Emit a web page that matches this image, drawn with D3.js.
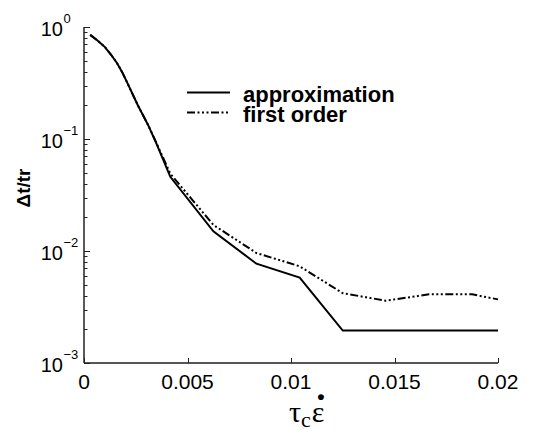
<!DOCTYPE html>
<html>
<head>
<meta charset="utf-8">
<script src="https://cdn.jsdelivr.net/npm/d3@7"></script>
<style>
  body { margin: 0; background: #fff; }
  text { font-family: "Liberation Sans", Arial, sans-serif; }
</style>
</head>
<body>
<div id="chart"></div>
<script>
// data
var xApprox = [0.0003, 0.00065, 0.001, 0.0013, 0.0016, 0.00185, 0.0021, 0.0026, 0.0031, 0.0035, 0.00417, 0.00625, 0.00833, 0.01042, 0.0125, 0.02];
var yApprox = [0.85, 0.758, 0.665, 0.568, 0.475, 0.393, 0.315, 0.2, 0.133, 0.091, 0.046, 0.015, 0.0077, 0.0058, 0.00195, 0.00195];

var xFirst = [0.0003, 0.00065, 0.001, 0.0013, 0.0016, 0.00185, 0.0021, 0.0026, 0.0031, 0.0035, 0.00417, 0.00625, 0.00833, 0.01042, 0.0125, 0.01458, 0.01667, 0.01875, 0.02];
var yFirst = [0.85, 0.758, 0.665, 0.568, 0.475, 0.393, 0.315, 0.2, 0.133, 0.092, 0.049, 0.0171, 0.0096, 0.0073, 0.0042, 0.0036, 0.0041, 0.0041, 0.0037];

var xTicks = [0, 0.005, 0.01, 0.015, 0.02];
var xTickLabels = ["0", "0.005", "0.01", "0.015", "0.02"];
var yExponents = [0, -1, -2, -3];

var seriesNames = ["approximation", "first order"];

var width = 539, height = 430;
var margin = {left: 84, right: 41, top: 27, bottom: 67};

var svg = d3.select("#chart").append("svg")
    .attr("width", width)
    .attr("height", height);

var x = d3.scaleLinear()
    .domain([0, 0.02])
    .range([margin.left, width - margin.right]);

var y = d3.scaleLog()
    .domain([1e-3, 1])
    .range([height - margin.bottom, margin.top]);

var axisColor = "#222";

//////////////////////// axes ////////////////////////
// y axis line
svg.append("line")
    .attr("x1", x(0)).attr("x2", x(0))
    .attr("y1", y(1e-3)).attr("y2", y(1))
    .style("stroke", axisColor).style("stroke-width", 1.5);

// x axis line
svg.append("line")
    .attr("x1", x(0)).attr("x2", x(0.02))
    .attr("y1", y(1e-3)).attr("y2", y(1e-3))
    .style("stroke", "#555").style("stroke-width", 2);

// y ticks, major + minor (pointing inward)
var yAll = y.ticks();
svg.selectAll(".yTick")
    .data(yAll)
    .enter().append("line")
    .attr("class", "yTick")
    .attr("x1", x(0))
    .attr("x2", function (d) {
        var major = Math.abs(Math.log10(d) - Math.round(Math.log10(d))) < 1e-9;
        return x(0) + (major ? 6 : 3.5);
    })
    .attr("y1", function (d) { return Math.round(y(d)) + 0.5; })
    .attr("y2", function (d) { return Math.round(y(d)) + 0.5; })
    .style("stroke", axisColor).style("stroke-width", 1);

// y tick labels 10^k
var yLab = svg.selectAll(".yLabel")
    .data(yExponents)
    .enter().append("g")
    .attr("class", "yLabel")
    .attr("transform", function (d) { return "translate(0," + y(Math.pow(10, d)) + ")"; });
yLab.append("text")
    .attr("x", 63).attr("y", 8.5)
    .attr("text-anchor", "end")
    .style("font-size", "20px")
    .text("10");
yLab.append("text")
    .attr("x", 63.5).attr("y", -4)
    .style("font-size", "13px")
    .text(function (d) { return d === 0 ? "0" : "\u2212" + Math.abs(d); });

// x ticks (pointing inward)
svg.selectAll(".xTick")
    .data(xTicks)
    .enter().append("line")
    .attr("class", "xTick")
    .attr("x1", function (d) { return Math.round(x(d)) + 0.5; })
    .attr("x2", function (d) { return Math.round(x(d)) + 0.5; })
    .attr("y1", y(1e-3))
    .attr("y2", y(1e-3) - 5)
    .style("stroke", axisColor).style("stroke-width", 1);

svg.selectAll(".xLabel")
    .data(xTicks)
    .enter().append("text")
    .attr("class", "xLabel")
    .attr("x", function (d) { return x(d); })
    .attr("y", 389)
    .attr("text-anchor", "middle")
    .style("font-size", "21px")
    .text(function (d, i) { return xTickLabels[i]; });

// axis titles
svg.append("text")
    .attr("transform", "translate(30,188) rotate(-90)")
    .attr("text-anchor", "middle")
    .style("font-size", "19px")
    .style("font-weight", "bold")
    .text("\u0394t/tr");

var xTitle = svg.append("text")
    .attr("x", 289).attr("y", 422)
    .style("font-family", "'Liberation Serif', 'DejaVu Serif', serif")
    .style("font-size", "30px");
xTitle.append("tspan").text("\u03c4");
xTitle.append("tspan").attr("dy", 5).style("font-size", "22px").text("c");
xTitle.append("tspan").attr("dy", -5).attr("dx", 1).text("\u03b5");
// the time-derivative dot above epsilon
svg.append("text")
    .attr("x", 321).attr("y", 404)
    .attr("text-anchor", "middle")
    .style("font-size", "21px")
    .style("font-weight", "bold")
    .text("\u2022");

//////////////////////// lines ////////////////////////
var line = d3.line()
    .x(function (d) { return x(d[0]); })
    .y(function (d) { return y(d[1]); });

var approxData = d3.zip(xApprox, yApprox);
var firstData = d3.zip(xFirst, yFirst);

var dashStyle = "8,2.5,2,2.5,2,2.5,2,2.5";

svg.append("path")
    .datum(firstData)
    .attr("d", line)
    .style("fill", "none")
    .style("stroke", "#000")
    .style("stroke-width", 2)
    .style("stroke-dasharray", dashStyle);

svg.append("path")
    .datum(approxData)
    .attr("d", line)
    .style("fill", "none")
    .style("stroke", "#000")
    .style("stroke-width", 2);

//////////////////////// legend ////////////////////////
var legendRows = [92.5, 112.5];
var legend = svg.selectAll(".legendRow")
    .data(seriesNames)
    .enter().append("g")
    .attr("class", "legendRow")
    .attr("transform", function (d, i) { return "translate(0," + legendRows[i] + ")"; });

legend.append("line")
    .attr("x1", 187).attr("x2", 230)
    .attr("y1", 0).attr("y2", 0)
    .style("stroke", "#000")
    .style("stroke-width", 2)
    .style("stroke-dasharray", function (d, i) { return i === 0 ? null : dashStyle; });

legend.append("text")
    .attr("x", 243)
    .attr("y", 9.5)
    .style("font-size", "22px")
    .style("font-weight", "bold")
    .text(function (d) { return d; });
</script>
</body>
</html>
